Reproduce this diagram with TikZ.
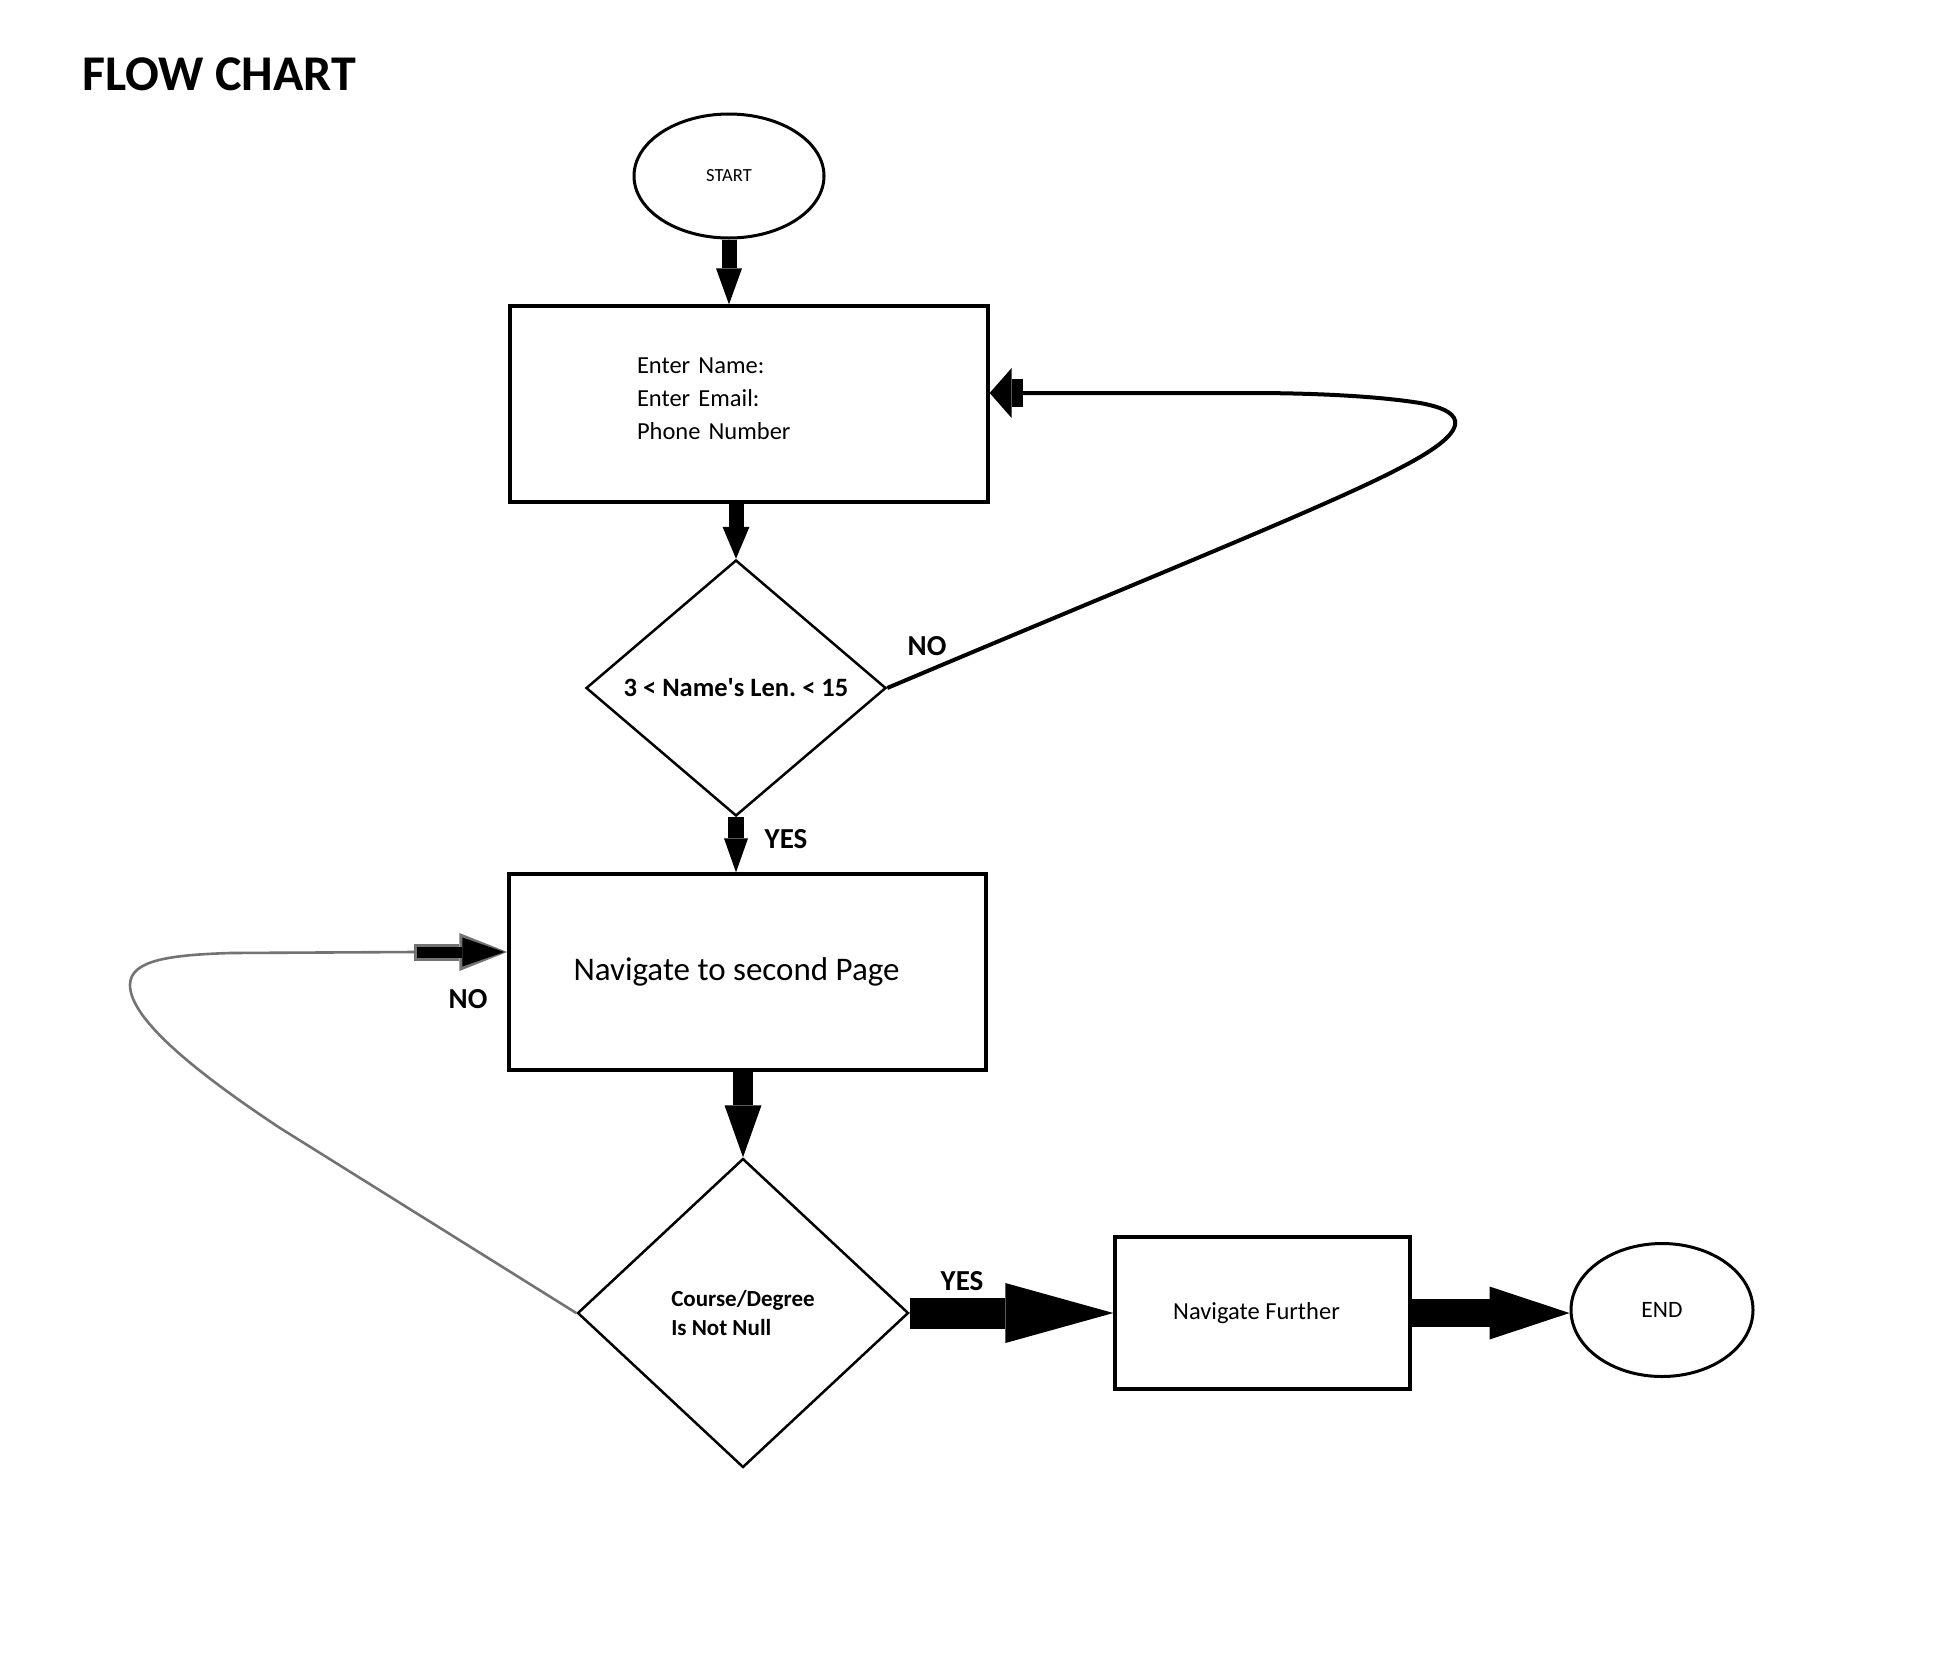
\documentclass[tikz,border=0pt]{standalone}
\usepackage{fontspec}
\setmainfont{Carlito}[Ligatures=TeXOff]
\usetikzlibrary{shapes.geometric,arrows.meta}
\begin{document}
\frenchspacing
\begin{tikzpicture}[x=1pt,y=-1pt,
  box/.style={draw, line width=3.3pt, rectangle, inner sep=0pt},
  oval/.style={draw, line width=3pt, ellipse, inner sep=0pt},
  dec/.style={draw, line width=2.5pt, diamond, inner sep=0pt},
  fat/.style n args={3}{line width=#1, -{Triangle[length=#3, width=#2, line width=0pt]}},
  lab/.style={font=\fontsize{29}{34}\selectfont\bfseries, inner sep=0pt},
  greyline/.style={draw=black!55, line width=2.6pt},
]
\fill[white] (0,0) rectangle (1938,1668);
\useasboundingbox (0,0) rectangle (1938,1668);

\node[font=\fontsize{50}{58}\selectfont\bfseries, anchor=west, inner sep=0pt] (title) at (82,74) {FLOW CHART};

\node[oval, minimum width=190pt, minimum height=124pt, font=\fontsize{18.5}{22}\selectfont] (start) at (729,176) {START};
\node[box, minimum width=478pt, minimum height=196pt, text width=224pt, align=left, font=\fontsize{24.5}{33}\selectfont] (box1) at (749,404) {Enter Name:\\Enter Email:\\Phone Number\\[-22pt]\mbox{}};
\node[dec, minimum width=300pt, minimum height=256pt, font=\fontsize{26.5}{32}\selectfont\bfseries] (dia1) at (736,688) {3 < Name's Len. < 15};
\node[box, minimum width=477pt, minimum height=196pt, font=\fontsize{33}{40}\selectfont] (box2) at (747.5,972) {\hspace*{-22pt}Navigate to second Page};
\node[dec, minimum width=331pt, minimum height=309pt, align=left, font=\fontsize{23}{29}\selectfont\bfseries] (dia2) at (743,1313) {Course/Degree\\Is Not Null};
\node[box, minimum width=295pt, minimum height=152pt, font=\fontsize{24.5}{30}\selectfont] (box3) at (1262.5,1313) {\hspace*{-12pt}Navigate Further};
\node[oval, minimum width=182pt, minimum height=133pt, font=\fontsize{23.5}{28}\selectfont] (end) at (1662,1310) {END};

\node[lab] (no1) at (927,646) {NO};
\node[lab] (yes1) at (786,839) {YES};
\node[lab] (no2) at (468,999) {NO};
\node[lab] (yes2) at (962,1281) {YES};

% main flow
\draw[fat={15pt}{26pt}{36pt}] (start.south) -- (start.south |- box1.north);
\draw[fat={15pt}{27pt}{32pt}] (dia1.north |- box1.south) -- (dia1.north);
\draw[fat={16pt}{24pt}{34pt}] (dia1.south) -- (dia1.south |- box2.north);
\draw[fat={20pt}{37pt}{52pt}] (dia2.north |- box2.south) -- (dia2.north);
\draw[fat={31pt}{60pt}{108pt}] (dia2.east) -- (box3.west);
\draw[fat={28pt}{53pt}{80pt}] (box3.east) -- (box3.east -| end.west);

% NO loop 1
\coordinate (c1) at (1023,393);
\draw[line width=4pt] (dia1.east) .. controls (1150,577) and (1330,505) .. (1400,468)
  .. controls (1470,432) and (1470,412) .. (1420,403)
  .. controls (1370,395) and (1300,393) .. (1250,393) -- (c1);
\draw[fat={28pt}{50pt}{22pt}] (c1) -- ([yshift=11pt]box1.east);

% NO loop 2
\coordinate (c2) at (414,952);
\draw[greyline] (dia2.west) -- (280,1128)
  .. controls (200,1075) and (130,1020) .. (130,985)
  .. controls (130,960) and (170,955) .. (230,953) -- (c2);
\draw[black!55, fat={17pt}{38pt}{48pt}] (c2) -- ([yshift=20pt]box2.west);
\draw[black, fat={11pt}{29pt}{42pt}] ([xshift=3pt]c2) -- ([yshift=20pt,xshift=-3pt]box2.west);
\end{tikzpicture}
\end{document}
